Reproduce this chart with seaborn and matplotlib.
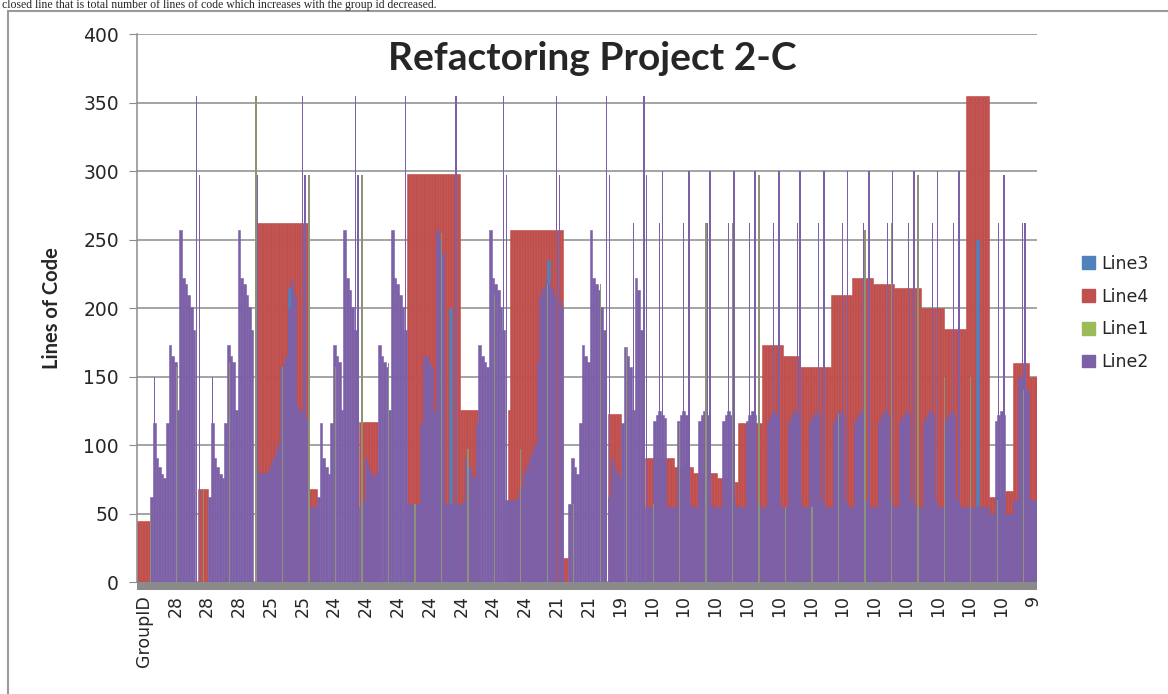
import numpy as np
import seaborn as sns
import matplotlib.pyplot as plt
from matplotlib.patches import Patch, Rectangle

sns.set_style("white")
plt.rcParams['font.family'] = ['DejaVu Sans']

N_ROWS = 340

# GroupID labels shown every 12th row on the category axis
group_labels = ["GroupID", "28", "28", "28", "25", "25", "24", "24", "24", "24", "24", "24", "24",
                "21", "21", "19", "10", "10", "10", "10", "10", "10", "10", "10", "10", "10",
                "10", "10", "9"]

# Line4 (red): level and how many consecutive rows keep that level
line4_levels = [45, 0, 68, 0, 262, 68, 0, 117, 0, 298, 126, 0, 126, 257, 18, 0, 123, 0,
                91, 84, 80, 76, 73, 116, 173, 165, 157, 210, 222, 218, 215, 200, 185, 355,
                62, 67, 160, 150]
line4_rows = [5, 18, 4, 18, 20, 3, 16, 7, 11, 20, 7, 11, 1, 20, 2, 15, 5, 9,
              11, 7, 9, 5, 3, 9, 8, 6, 12, 8, 8, 8, 10, 9, 8, 9,
              6, 3, 6, 3]

# Line2 (purple), one value per row
line2 = [
    0, 0, 0, 0, 0, 62, 116, 91, 84, 79,
    76, 116, 173, 165, 161, 126, 257, 222, 218, 210,
    201, 184, 0, 0, 0, 0, 0, 62, 116, 91,
    84, 79, 76, 116, 173, 165, 161, 126, 257, 222,
    218, 210, 201, 184, 0, 80, 80, 80, 80, 80,
    85, 90, 95, 100, 157, 160, 165, 200, 220, 210,
    130, 125, 125, 0, 120, 55, 55, 55, 62, 116,
    91, 84, 79, 116, 173, 165, 161, 126, 257, 222,
    213, 201, 184, 0, 55, 60, 91, 84, 79, 76,
    80, 173, 165, 161, 157, 126, 257, 222, 218, 210,
    201, 184, 57, 57, 57, 57, 57, 116, 165, 165,
    160, 157, 126, 257, 250, 240, 57, 57, 57, 57,
    57, 57, 57, 60, 91, 84, 79, 76, 116, 173,
    165, 161, 157, 257, 222, 218, 213, 201, 184, 60,
    60, 60, 60, 60, 65, 70, 80, 85, 90, 95,
    100, 160, 210, 215, 220, 218, 215, 210, 0, 205,
    200, 0, 0, 57, 91, 84, 79, 116, 173, 165,
    161, 257, 222, 218, 213, 201, 184, 0, 62, 91,
    84, 79, 76, 116, 172, 165, 157, 126, 222, 213,
    184, 0, 55, 55, 55, 118, 122, 125, 122, 120,
    55, 55, 55, 55, 118, 122, 125, 122, 60, 55,
    55, 55, 118, 122, 125, 122, 60, 55, 55, 55,
    55, 118, 122, 125, 122, 60, 55, 55, 55, 55,
    118, 122, 125, 122, 60, 55, 55, 55, 118, 122,
    125, 122, 60, 55, 55, 55, 118, 122, 125, 122,
    60, 55, 55, 55, 118, 122, 125, 122, 60, 55,
    55, 55, 55, 118, 122, 125, 122, 60, 55, 55,
    55, 118, 122, 125, 122, 60, 55, 55, 55, 55,
    118, 122, 125, 122, 60, 55, 55, 55, 118, 122,
    125, 122, 60, 55, 55, 55, 55, 118, 122, 125,
    122, 60, 55, 55, 55, 118, 122, 125, 122, 60,
    55, 55, 55, 55, 55, 55, 55, 55, 55, 55,
    55, 55, 50, 50, 118, 122, 125, 122, 50, 50,
    50, 60, 60, 150, 150, 140, 140, 60, 60, 60,
]

# Line2 rows where only a hair-thin bar sticks up
spike_rows = [6, 22, 23, 28, 45, 62, 63, 82, 83, 101,
              120, 138, 139, 158, 159, 177, 178, 187, 191, 192,
              197, 198, 206, 208, 215, 216, 223, 225, 231, 233,
              240, 242, 249, 250, 257, 259, 266, 268, 274, 276,
              283, 285, 291, 293, 300, 302, 308, 310, 325, 327,
              334, 335]
spike_values = [150, 355, 297, 150, 297, 355, 297, 355, 297, 355,
                355, 355, 297, 355, 297, 355, 297, 262, 355, 297,
                262, 300, 262, 300, 262, 300, 262, 300, 262, 300,
                262, 300, 262, 300, 262, 300, 262, 300, 262, 300,
                262, 300, 262, 300, 262, 300, 262, 300, 262, 297,
                262, 262]

# Line1 (green) only shows up on every 10th row
line1_rows = list(range(4, N_ROWS, 10))
line1_values = [55, 157, 68, 160, 355, 157, 297, 157, 297, 160,
                57, 255, 97, 210, 97, 218, 57, 218, 172, 57,
                116, 262, 262, 297, 55, 55, 123, 257, 262, 297,
                150, 150, 60, 140]

# Line3 (blue) is mostly hidden, only a few streaks are visible
line3_rows = [57, 118, 155, 317]
line3_values = [215, 200, 235, 250]

colors = {"Line3": "#4F81BD", "Line4": "#C0504D", "Line1": "#9BBB59", "Line2": "#7D61A8"}

rows = np.arange(N_ROWS)
line4 = np.repeat(line4_levels, line4_rows)
line3 = np.zeros(N_ROWS)
line3[line3_rows] = line3_values
spikes = np.zeros(N_ROWS)
spikes[spike_rows] = spike_values
line1 = np.zeros(N_ROWS)
line1[line1_rows] = line1_values

fig = plt.figure(figsize=(11.68, 6.94), dpi=100)
ax = fig.add_axes([137 / 1168, 1 - 582.3 / 694, 900 / 1168, 548 / 694])
ax.set_axisbelow(True)


def bars(x, y, color, width, lw):
    sns.barplot(x=x, y=y, orient="x", native_scale=True, width=width, color=color,
                saturation=1, errorbar=None, linewidth=lw, edgecolor=color, ax=ax)


bars(rows, line4, colors["Line4"], 1.0, 0.4)
bars(rows, line3, colors["Line3"], 1.0, 0.4)
bars(rows, np.array(line2), colors["Line2"], 1.0, 0.4)
bars(rows + 0.5, line1, "#8d9476", 0.5, 0)
bars(rows, spikes, colors["Line2"], 0.45, 0)

ax.set_xlim(-0.5, N_ROWS - 0.5)
ax.set_ylim(0, 400)
ax.set_xlabel("")
ax.set_ylabel("")

# gray category axis band below zero
ax.add_patch(Rectangle((0, -0.0146), 1, 0.0146, transform=ax.transAxes, clip_on=False,
                       facecolor="#8a8a8a", edgecolor="none", zorder=0.4))

ax.set_xticks(np.arange(4.5, N_ROWS, 10))
ax.set_xticklabels([])
ax.set_xticks(np.arange(2, N_ROWS, 12), minor=True)
ax.set_xticklabels(group_labels, minor=True, rotation=90)
ax.tick_params(axis="x", which="major", length=8, width=1.3, color="white", direction="out")
ax.tick_params(axis="x", which="minor", length=0, pad=9, labelsize=12.5)

ax.set_yticks(range(0, 401, 50))
ax.tick_params(axis="y", length=6, color="#8c8c8c", pad=7, labelsize=13.5, left=True)
ax.yaxis.grid(True, color="#8c8c8c", linewidth=1.1)
ax.xaxis.grid(False)
for side in ["top", "right", "bottom"]:
    ax.spines[side].set_visible(False)
ax.spines["left"].set_color("#8c8c8c")
ax.spines["left"].set_linewidth(1.1)

fig.text(592 / 1168, 1 - 58 / 694, "Refactoring Project 2-C", ha="center", va="center",
         fontsize=28, fontweight="bold", family=["Lato", "DejaVu Sans"])
fig.text(52 / 1168, 1 - 308 / 694, "Lines of Code", rotation=90, ha="center", va="center",
         fontsize=14.5, fontweight="bold", family=["Lato", "DejaVu Sans"])

handles = [Patch(color=colors[k]) for k in ["Line3", "Line4", "Line1", "Line2"]]
fig.legend(handles, ["Line3", "Line4", "Line1", "Line2"], loc="center left",
           bbox_to_anchor=(1066 / 1168, 1 - 313 / 694), frameon=False, fontsize=12.5,
           handlelength=0.75, handleheight=0.75, handletextpad=0.4, labelspacing=0.85)

# chart area border
fig.add_artist(Rectangle((8 / 1168, -0.05), 1.1, 1.05 - 11 / 694, transform=fig.transFigure,
                         fill=False, edgecolor="#9a9a9a", linewidth=1.5))

# line of surrounding text at the very top
fig.text(0.002, 1 - 8 / 694, "closed line that is total number of lines of code which increases "
         "with the group id decreased.", ha="left", va="baseline", fontsize=8.5,
         family=["Liberation Serif", "DejaVu Serif"])

fig.savefig("out.png", dpi=100)
